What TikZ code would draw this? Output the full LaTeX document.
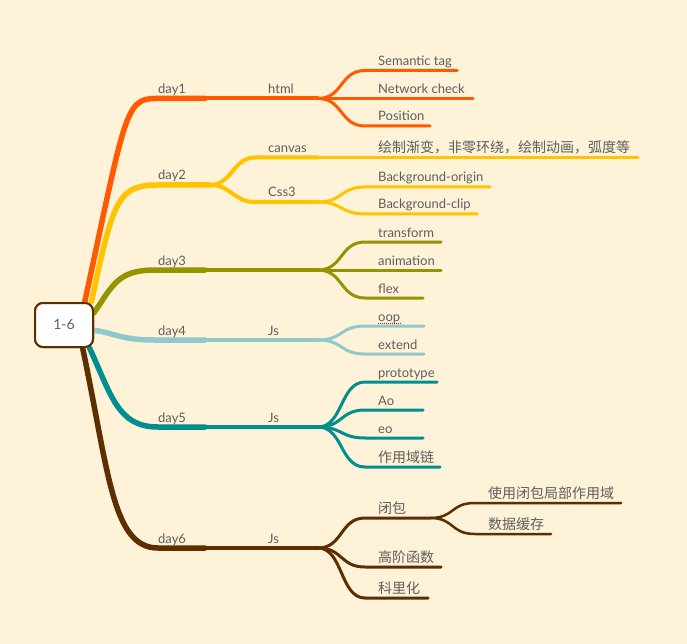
\documentclass[tikz,border=0pt]{standalone}
\usepackage{fontspec}
\setmainfont{Lato}
\newfontfamily\cjkfont{Noto Sans CJK SC}
\usepackage{tikz}
\definecolor{cBg}{HTML}{FEF2D8}
\definecolor{cText}{HTML}{5E5E5E}
\definecolor{cOne}{HTML}{FF5A00}
\definecolor{cTwo}{HTML}{FFC300}
\definecolor{cThree}{HTML}{949400}
\definecolor{cFour}{HTML}{8FC9CB}
\definecolor{cFive}{HTML}{008E8E}
\definecolor{cSix}{HTML}{5C2E00}
\tikzset{
  trunk/.style   ={line width=5.5pt, line cap=round},
  twig/.style    ={line width=4pt, line cap=round},
  leafline/.style={line width=3pt, line cap=round},
  tipline/.style ={line width=2.5pt, line cap=round},
  lbl/.style     ={anchor=base west, inner sep=0pt, text=cText, font=\fontsize{13}{15}\selectfont},
  zh/.style      ={lbl, font=\fontsize{14}{16}\selectfont\cjkfont},
  rootbox/.style ={draw=cSix, line width=2pt, fill=white, rounded corners=8pt,
                   minimum width=58pt, minimum height=44pt, text=cText, font=\fontsize{14}{16}\selectfont},
}
\begin{document}
\begin{tikzpicture}[x=1pt,y=-1pt]
        \fill[cBg] (0,0) rectangle (687,644);
        \useasboundingbox (0,0) rectangle (687,644);
        \node[rootbox] (root) at (64,325){};
        % underline ends
        \coordinate (d1) at (155,98.5); \coordinate (d1-e) at (205,98.5); \coordinate (html-e) at (318,98.5);
        \coordinate (sem-s) at (365,70.5); \coordinate (sem-e) at (457,70.5);
        \coordinate (net-e) at (473,98.5);
        \coordinate (pos-s) at (365,126); \coordinate (pos-e) at (430,126);
        \coordinate (d2) at (158,185); \coordinate (d2-e) at (210,185);
        \coordinate (canvas-s) at (255,157.5); \coordinate (canvas-e) at (318,157.5); \coordinate (draw-e) at (638,157.5);
        \coordinate (css-s) at (255,202); \coordinate (css-e) at (318,202);
        \coordinate (bgo-s) at (365,187); \coordinate (bgo-e) at (490,187);
        \coordinate (bgc-s) at (365,214); \coordinate (bgc-e) at (477,214);
        \coordinate (d3) at (155,270); \coordinate (d3-e) at (205,270); \coordinate (mid3-e) at (318,270);
        \coordinate (tf-s) at (365,242); \coordinate (tf-e) at (441,242);
        \coordinate (anim-e) at (441,270);
        \coordinate (flex-s) at (365,298); \coordinate (flex-e) at (423,298);
        \coordinate (d4) at (155,340); \coordinate (d4-e) at (205,340); \coordinate (js4-e) at (318,340);
        \coordinate (oop-s) at (365,326); \coordinate (oop-e) at (424,326);
        \coordinate (ext-s) at (365,354); \coordinate (ext-e) at (424,354);
        \coordinate (d5) at (158,427); \coordinate (d5-e) at (205,427); \coordinate (js5-e) at (318,427);
        \coordinate (proto-s) at (365,382); \coordinate (proto-e) at (437,382);
        \coordinate (ao-s) at (365,410); \coordinate (ao-e) at (423,410);
        \coordinate (eo-s) at (365,438); \coordinate (eo-e) at (423,438);
        \coordinate (scope-s) at (365,467); \coordinate (scope-e) at (440,467);
        \coordinate (d6) at (158,548); \coordinate (d6-e) at (205,548); \coordinate (js6-e) at (318,548);
        \coordinate (clo-s) at (365,518); \coordinate (clo-e) at (430,518);
        \coordinate (use-s) at (475,503); \coordinate (use-e) at (621,503);
        \coordinate (cache-s) at (475,534); \coordinate (cache-e) at (551,534);
        \coordinate (hof-s) at (365,567); \coordinate (hof-e) at (441,567);
        \coordinate (cur-s) at (365,598); \coordinate (cur-e) at (428,598);
        % day1
        \draw[trunk,cOne] (root.48) .. controls +(40,-185) and +(-30,0) .. (d1) -- (d1-e);
        \draw[twig,cOne] (d1-e) -- (html-e);
        \draw[leafline,cOne] (html-e) .. controls +(25,0) and +(-25,0) .. (sem-s) -- (sem-e);
        \draw[leafline,cOne] (html-e) -- (net-e);
        \draw[leafline,cOne] (html-e) .. controls +(25,0) and +(-25,0) .. (pos-s) -- (pos-e);
        % day2
        \draw[trunk,cTwo] (root.40) .. controls +(22,-103) and +(-40,0) .. (d2) -- (d2-e);
        \draw[twig,cTwo] (d2-e) .. controls +(22,0) and +(-22,0) .. (canvas-s) -- (canvas-e);
        \draw[leafline,cTwo] (canvas-e) -- (draw-e);
        \draw[twig,cTwo] (d2-e) .. controls +(22,0) and +(-22,0) .. (css-s) -- (css-e);
        \draw[leafline,cTwo] (css-e) .. controls +(25,0) and +(-25,0) .. (bgo-s) -- (bgo-e);
        \draw[leafline,cTwo] (css-e) .. controls +(25,0) and +(-25,0) .. (bgc-s) -- (bgc-e);
        % day3
        \draw[trunk,cThree] (root.22) .. controls +(19,-28) and +(-37,0) .. (d3) -- (d3-e);
        \draw[twig,cThree] (d3-e) -- (mid3-e);
        \draw[leafline,cThree] (mid3-e) .. controls +(25,0) and +(-25,0) .. (tf-s) -- (tf-e);
        \draw[leafline,cThree] (mid3-e) -- (anim-e);
        \draw[leafline,cThree] (mid3-e) .. controls +(25,0) and +(-25,0) .. (flex-s) -- (flex-e);
        % day4
        \draw[trunk,cFour] (root.-10) .. controls +(22,3) and +(-35,0) .. (d4) -- (d4-e);
        \draw[twig,cFour] (d4-e) -- (js4-e);
        \draw[leafline,cFour] (js4-e) .. controls +(25,0) and +(-25,0) .. (oop-s) -- (oop-e);
        \draw[leafline,cFour] (js4-e) .. controls +(25,0) and +(-25,0) .. (ext-s) -- (ext-e);
        % day5
        \draw[trunk,cFive] (root.-42) .. controls +(22,48) and +(-40,0) .. (d5) -- (d5-e);
        \draw[twig,cFive] (d5-e) -- (js5-e);
        \draw[leafline,cFive] (js5-e) .. controls +(25,0) and +(-25,0) .. (proto-s) -- (proto-e);
        \draw[leafline,cFive] (js5-e) .. controls +(25,0) and +(-25,0) .. (ao-s) -- (ao-e);
        \draw[leafline,cFive] (js5-e) .. controls +(25,0) and +(-25,0) .. (eo-s) -- (eo-e);
        \draw[leafline,cFive] (js5-e) .. controls +(25,0) and +(-25,0) .. (scope-s) -- (scope-e);
        % day6
        \draw[trunk,cSix] (root.-51) .. controls +(26,123) and +(-46,0) .. (d6) -- (d6-e);
        \draw[twig,cSix] (d6-e) -- (js6-e);
        \draw[leafline,cSix] (js6-e) .. controls +(25,0) and +(-25,0) .. (clo-s) -- (clo-e);
        \draw[tipline,cSix] (clo-e) .. controls +(25,0) and +(-25,0) .. (use-s) -- (use-e);
        \draw[tipline,cSix] (clo-e) .. controls +(25,0) and +(-25,0) .. (cache-s) -- (cache-e);
        \draw[leafline,cSix] (js6-e) .. controls +(25,0) and +(-25,0) .. (hof-s) -- (hof-e);
        \draw[leafline,cSix] (js6-e) .. controls +(25,0) and +(-25,0) .. (cur-s) -- (cur-e);
        % root on top
        \node[rootbox] at (root) {1-6};
        % labels
        \node[lbl] (day1) at (158,93.5){day1};
        \node[lbl] (html) at (268,93.5){html};
        \node[lbl] (sem) at (378,65.5){Semantic tag};
        \node[lbl] (net) at (378,93.5){Network check};
        \node[lbl] (pos) at (378,121){Position};
        \node[lbl] (day2) at (158,180){day2};
        \node[lbl] (canvas) at (268,152.5){canvas};
        \node[zh] (draw) at (378,152.5){绘制渐变，非零环绕，绘制动画，弧度等};
        \node[lbl] (css) at (268,197){Css3};
        \node[lbl] (bgo) at (378,182){Background-origin};
        \node[lbl] (bgc) at (378,209){Background-clip};
        \node[lbl] (day3) at (158,265){day3};
        \node[lbl] (tf) at (378,237){transform};
        \node[lbl] (anim) at (378,265){animation};
        \node[lbl] (flex) at (378,293){flex};
        \node[lbl] (day4) at (158,335){day4};
        \node[lbl] (js4) at (268,335){Js};
        \node[lbl] (oop) at (378,321){oop};
        \draw[red, line width=1pt, dash pattern=on 1pt off 1pt] ([yshift=-2pt]oop.base west) -- ([yshift=-2pt]oop.base east);
        \node[lbl] (ext) at (378,349){extend};
        \node[lbl] (day5) at (158,422){day5};
        \node[lbl] (js5) at (268,422){Js};
        \node[lbl] (proto) at (378,377){prototype};
        \node[lbl] (ao) at (378,405){Ao};
        \node[lbl] (eo) at (378,433){eo};
        \node[zh] (scope) at (378,462){作用域链};
        \node[lbl] (day6) at (158,543){day6};
        \node[lbl] (js6) at (268,543){Js};
        \node[zh] (clo) at (378,513){闭包};
        \node[zh] (use) at (488,498){使用闭包局部作用域};
        \node[zh] (cache) at (488,529){数据缓存};
        \node[zh] (hof) at (378,562){高阶函数};
        \node[zh] (cur) at (378,593){科里化};
      \end{tikzpicture}
\end{document}
